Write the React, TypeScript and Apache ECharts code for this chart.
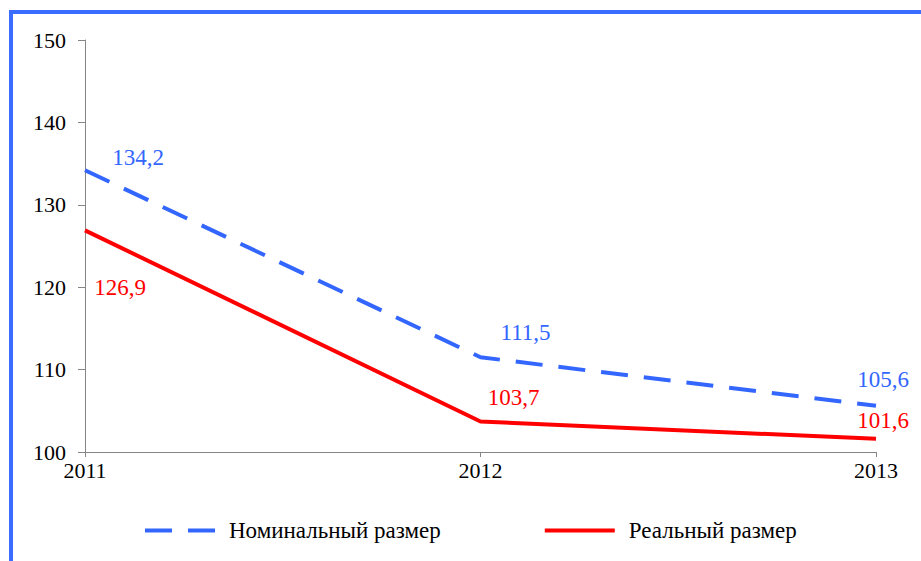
import React, { useEffect, useRef } from "react";
import * as echarts from "echarts";

const years = ["2011", "2012", "2013"];
const nominal = [134.2, 111.5, 105.6];
const real = [126.9, 103.7, 101.6];
const seriesNames = ["Номинальный размер", "Реальный размер"];
const yTicks = { min: 100, max: 150, interval: 10 };

const BLUE = "#3366ff";
const RED = "#ff0000";
const FONT = "Times New Roman, Liberation Serif, DejaVu Serif, serif";

const nominalOffsets = [[53, -13], [45, -25], [7, -26]];
const realOffsets = [[35, 57], [33, -24], [7, -18]];

const fmt = (v: number) => v.toFixed(1).replace(".", ",");

export default function App() {
  const ref = useRef<HTMLDivElement>(null);
  useEffect(() => {
    if (!ref.current) return;
    const chart = echarts.init(ref.current, null, { renderer: "svg" });
    const mk = (vals: number[], offs: number[][], color: string) =>
      vals.map((v, i) => ({
        value: v,
        label: {
          show: true,
          position: "inside",
          offset: offs[i],
          color,
          fontFamily: FONT,
          fontSize: 23,
          formatter: () => fmt(v),
        },
      }));
    chart.setOption({
      animation: false,
      backgroundColor: "#ffffff",
      textStyle: { fontFamily: FONT },
      graphic: [
        {
          type: "rect",
          shape: { x: 11, y: 12, width: 1200, height: 1000 },
          style: { fill: "none", stroke: "#3a6cff", lineWidth: 4 },
          silent: true,
        },
      ],
      grid: { left: 85, right: 45, top: 40, bottom: 109, containLabel: false },
      legend: {
        bottom: 14,
        left: 140,
        itemWidth: 70,
        itemHeight: 4,
        itemGap: 104,
        textStyle: {
          fontFamily: FONT,
          fontSize: 23,
          color: "#000",
          padding: [0, 0, 0, 9],
        },
        data: [
          { name: seriesNames[0], icon: "path://M0 0H27V4H0Z M43 0H70V4H43Z" },
          { name: seriesNames[1], icon: "rect" },
        ],
      },
      xAxis: {
        type: "category",
        data: years,
        boundaryGap: false,
        axisLine: { lineStyle: { color: "#868686", width: 1 } },
        axisTick: { show: true, length: 5, lineStyle: { color: "#868686" } },
        axisLabel: { color: "#000", fontFamily: FONT, fontSize: 22, margin: 7 },
      },
      yAxis: {
        type: "value",
        min: yTicks.min,
        max: yTicks.max,
        interval: yTicks.interval,
        axisLine: { show: true, lineStyle: { color: "#868686", width: 1 } },
        axisTick: { show: true, length: 7, lineStyle: { color: "#868686" } },
        splitLine: { show: false },
        axisLabel: { color: "#000", fontFamily: FONT, fontSize: 22, margin: 19 },
      },
      series: [
        {
          name: seriesNames[0],
          type: "line",
          symbol: "circle",
          symbolSize: 0,
          showSymbol: true,
          data: mk(nominal, nominalOffsets, BLUE),
          lineStyle: { color: BLUE, width: 4, type: [27, 16] },
          itemStyle: { color: BLUE },
        },
        {
          name: seriesNames[1],
          type: "line",
          symbol: "circle",
          symbolSize: 0,
          showSymbol: true,
          data: mk(real, realOffsets, RED),
          lineStyle: { color: RED, width: 4 },
          itemStyle: { color: RED },
        },
      ],
    });
    return () => chart.dispose();
  }, []);
  return (
    <div
      ref={ref}
      style={{ position: "absolute", left: 0, top: 0, width: 921, height: 561 }}
    />
  );
}
